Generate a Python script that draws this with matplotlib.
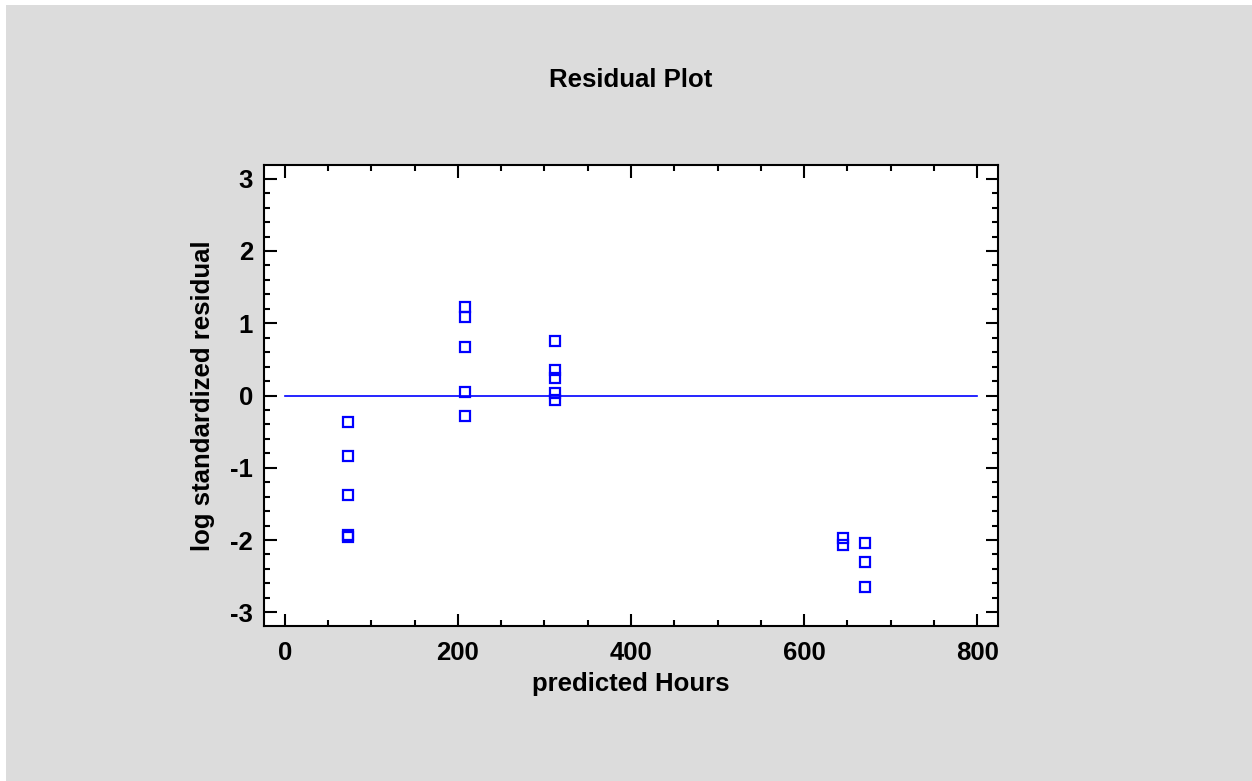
import matplotlib.pyplot as plt
from matplotlib.patches import Rectangle
from matplotlib.ticker import MultipleLocator

# valores (prediccion, residuo estandarizado log)
pred_75 = [73, 73, 73, 73, 73]
res_75 = [-0.36, -0.84, -1.38, -1.93, -1.96]
pred_208 = [208, 208, 208, 208, 208]
res_208 = [1.22, 1.08, 0.67, 0.05, -0.28]
pred_312 = [312, 312, 312, 312, 312]
res_312 = [0.75, 0.35, 0.24, 0.03, -0.06]
pred_645 = [645, 645]
res_645 = [-1.97, -2.07]
pred_670 = [670, 670, 670]
res_670 = [-2.04, -2.31, -2.65]

x_pts = pred_75 + pred_208 + pred_312 + pred_645 + pred_670
y_pts = res_75 + res_208 + res_312 + res_645 + res_670

plt.rcParams['font.family'] = ['Liberation Sans', 'DejaVu Sans']
plt.rcParams['font.weight'] = 'bold'
plt.rcParams['axes.unicode_minus'] = False

fs = 18.5

fig = plt.figure(figsize=(12.52, 7.81), dpi=100, facecolor='white')
fig.patches.append(Rectangle((6 / 1252, 0), 1, 1 - 5 / 781, transform=fig.transFigure,
                             facecolor='#DCDCDC', edgecolor='none', zorder=-1))

ax = fig.add_axes([264 / 1252, 1 - 626 / 781, (998 - 264) / 1252, (626 - 165) / 781])
ax.set_facecolor('white')

# linea de referencia en cero
ax.plot([0, 800], [0, 0], color='#0000FF', linewidth=1.2)

# residuos
ax.plot(x_pts, y_pts, linestyle='none', marker='s', markersize=6.5,
        markerfacecolor='none', markeredgecolor='#0000FF', markeredgewidth=1.6)

ax.set_xlim(-24, 824)
ax.set_ylim(-3.19, 3.19)
ax.xaxis.set_major_locator(MultipleLocator(200))
ax.xaxis.set_minor_locator(MultipleLocator(50))
ax.yaxis.set_major_locator(MultipleLocator(1))
ax.yaxis.set_minor_locator(MultipleLocator(0.2))

ax.tick_params(which='both', direction='in', top=True, right=True, width=1.5,
               labelsize=fs, colors='black')
ax.tick_params(which='major', length=9)
ax.tick_params(which='minor', length=4.5)
ax.tick_params(axis='x', which='major', pad=11)
ax.tick_params(axis='y', which='major', pad=8)
for lab in ax.get_xticklabels() + ax.get_yticklabels():
    lab.set_fontweight('bold')

for s in ax.spines.values():
    s.set_linewidth(1.5)

ax.set_xlabel('predicted Hours', fontsize=fs, fontweight='bold', labelpad=5)
ax.set_ylabel('log standardized residual', fontsize=fs, fontweight='bold', labelpad=11)

fig.text(631 / 1252, 1 - 80 / 781, 'Residual Plot', ha='center', va='center',
         fontsize=fs, fontweight='bold')

plt.savefig('out.png', dpi=100, facecolor=fig.get_facecolor())
